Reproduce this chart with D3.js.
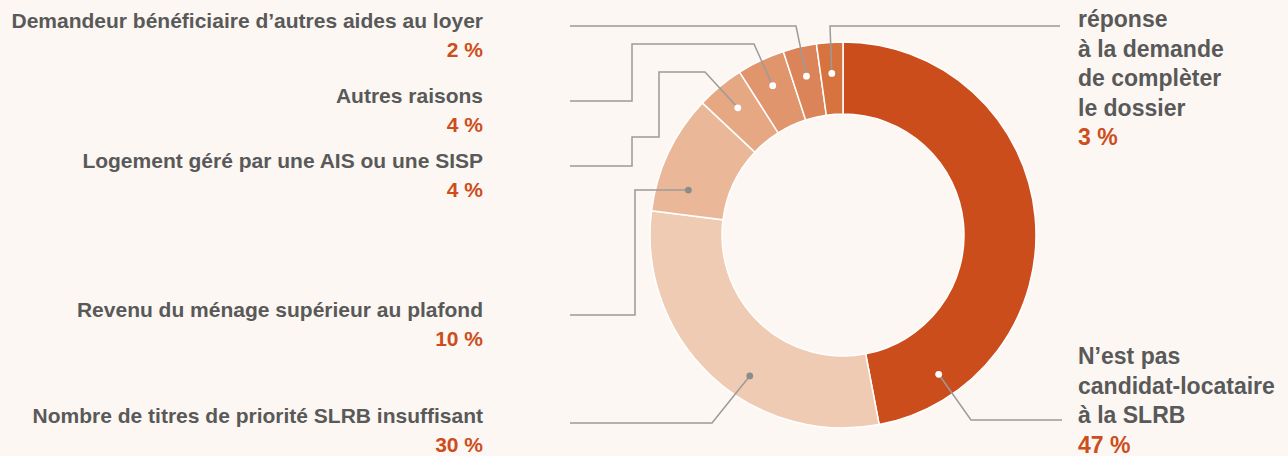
<!DOCTYPE html>
<html lang="fr">
<head>
<meta charset="utf-8">
<script src="https://cdn.jsdelivr.net/npm/d3@7"></script>
<style type="text/css">
body { margin: 0; background: #fcf7f2; }
text { font-family: "Liberation Sans", Arial, sans-serif; font-weight: bold; font-size: 21px; }
text.right { font-size: 23px; }
.lbl { fill: #595959; }
.pct { fill: #cc4e1c; }
.leader { fill: none; stroke: #9b9b9b; stroke-width: 1.5; }
</style>
</head>
<body>
<script type="text/javascript">

// Data, clockwise from the top
var categories = ["N’est pas candidat-locataire à la SLRB",
                  "Nombre de titres de priorité SLRB insuffisant",
                  "Revenu du ménage supérieur au plafond",
                  "Logement géré par une AIS ou une SISP",
                  "Autres raisons",
                  "Demandeur bénéficiaire d’autres aides au loyer",
                  "réponse à la demande de complèter le dossier"];
var values = [47, 30, 10, 4, 4, 2.8, 2.2];
var pctLabels = ["47 %", "30 %", "10 %", "4 %", "4 %", "2 %", "3 %"];
var colors = ["#cb4d1c", "#f0cbb3", "#eab899", "#e6a783", "#e0956c", "#dc8459", "#d7733f"];

// Label layout (lines, anchor, leader routing)
var layout = [
  {lines: ["N’est pas", "candidat-locataire", "à la SLRB"], side: "right", y: 364, dotFrac: 0.86, dotR: 169, dot: "#fff",
   route: [[971, 420], [1062, 420]]},
  {lines: ["Nombre de titres de priorité SLRB insuffisant"], side: "left", y: 423, dotFrac: 0.41, dotR: 169, dot: "#8c8c8c",
   route: [[712, 423], [570, 423]]},
  {lines: ["Revenu du ménage supérieur au plafond"], side: "left", y: 317, dotFrac: 0.25, dotR: 161, dot: "#8c8c8c",
   route: [[635, 190], [635, 315], [570, 315]]},
  {lines: ["Logement géré par une AIS ou une SISP"], side: "left", y: 168, dotFrac: 0.5, dotR: 165, dot: "#fff",
   route: [[705, 72], [659, 72], [659, 137], [632, 137], [632, 166], [570, 166]]},
  {lines: ["Autres raisons"], side: "left", y: 103, dotFrac: 0.5, dotR: 165, dot: "#fff",
   route: [[754, 44], [632, 44], [632, 101], [570, 101]]},
  {lines: ["Demandeur bénéficiaire d’autres aides au loyer"], side: "left", y: 28, dotFrac: 0.5, dotR: 163, dot: "#fff",
   route: [[796, 26], [570, 26]]},
  {lines: ["réponse", "à la demande", "de complèter", "le dossier"], side: "right", y: 27, dotFrac: 0.5, dotR: 162, dot: "#fff",
   route: [[830, 26], [1060, 26]]}
];

var width = 1288, height = 456;
var cx = 843, cy = 235;
var innerR = 121, outerR = 193;

var svg = d3.select("body").append("svg")
    .attr("width", width)
    .attr("height", height);

var pie = d3.pie().sort(null).value(function(d) { return d; });
var arcs = pie(values);

var arc = d3.arc().innerRadius(innerR).outerRadius(outerR);

var g = svg.append("g").attr("transform", "translate(" + cx + "," + cy + ")");

g.selectAll("path")
  .data(arcs)
  .enter()
  .append("path")
  .attr("d", arc)
  .style("fill", function(d, i) { return colors[i]; })
  .style("stroke", "#ffffff")
  .style("stroke-width", 1.5);

// dot positions
function dotPos(d, i) {
  var L = layout[i];
  var a = d.startAngle + L.dotFrac * (d.endAngle - d.startAngle);
  return [cx + L.dotR * Math.sin(a), cy - L.dotR * Math.cos(a)];
}

// leader lines
arcs.forEach(function(d, i) {
  var p = dotPos(d, i);
  var pts = [p].concat(layout[i].route);
  svg.append("path")
    .attr("class", "leader")
    .attr("d", d3.line()(pts));
});

arcs.forEach(function(d, i) {
  var p = dotPos(d, i);
  svg.append("circle")
    .attr("cx", p[0]).attr("cy", p[1])
    .attr("r", 3.4)
    .style("fill", layout[i].dot);
});

// labels
layout.forEach(function(L, i) {
  var left = L.side === "left";
  var x = left ? 483 : 1078;
  var lineH = left ? 29.3 : 29.5;
  var t = svg.append("text")
    .attr("class", L.side)
    .attr("text-anchor", left ? "end" : "start");
  L.lines.forEach(function(s, k) {
    t.append("tspan").attr("class", "lbl")
      .attr("x", x).attr("y", L.y + k * lineH).text(s);
  });
  t.append("tspan").attr("class", "pct")
    .attr("x", x).attr("y", L.y + L.lines.length * lineH).text(pctLabels[i]);
});

</script>
</body>
</html>
